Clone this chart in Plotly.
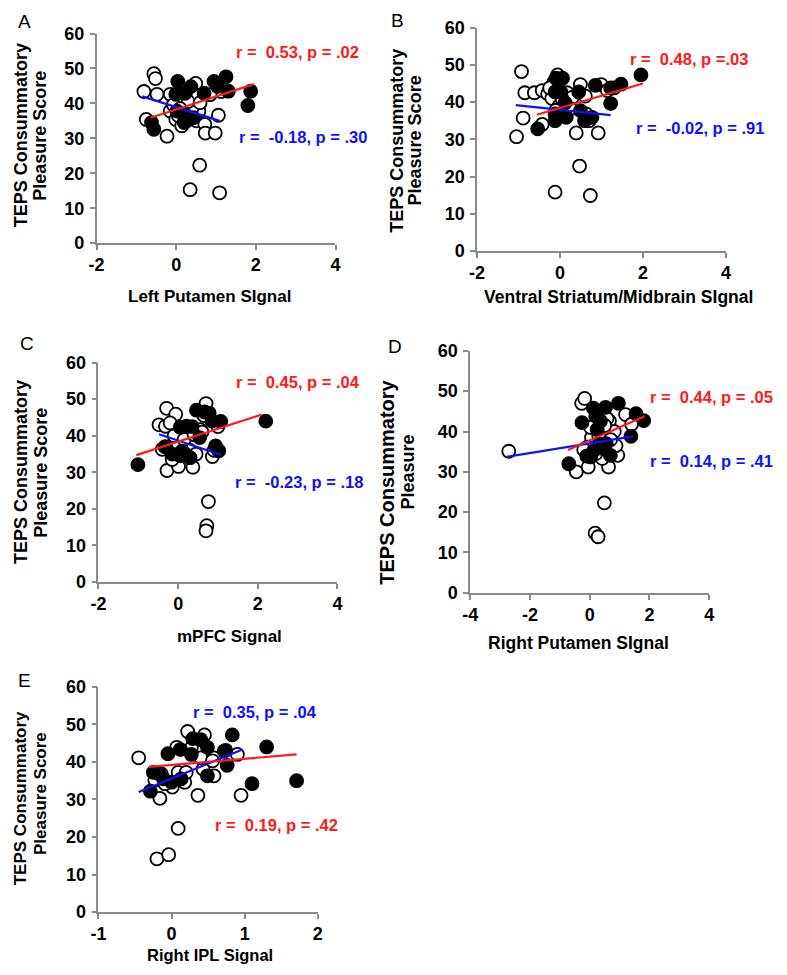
import plotly.graph_objects as go

W, H = 787, 975

# ---------------- data ----------------
# Panel A: Left Putamen
A_open_x = [-0.56, -0.52, -0.81, -0.48, -0.15, 0.49, 0.40, 1.13, -0.75, -0.23, -0.15, -0.01, 0.14, 0.51, 0.72,
            0.73, 0.98, 1.06, 0.57, 0.40, 0.59, 0.35, 1.09, -0.07, 0.55, 0.30, 0.10, 0.85, 0.60, 0.05]
A_open_y = [48.5, 47.1, 43.4, 42.6, 42.6, 45.7, 41.0, 43.4, 35.4, 30.6, 37.8, 35.4, 33.6, 35.0, 34.0,
            31.5, 31.5, 36.6, 37.8, 38.7, 22.3, 15.3, 14.4, 39.6, 42.3, 40.5, 38.5, 42.5, 40.2, 36.5]
A_fill_x = [0.04, -0.01, 0.22, 0.37, 0.70, 0.95, 1.25, 1.04, 1.31, 1.87, 1.80, -0.62, -0.56, 0.02, 0.22, 0.26, 0.43, 0.20]
A_fill_y = [46.3, 42.6, 42.9, 44.8, 42.9, 46.3, 47.6, 44.8, 43.5, 43.5, 39.4, 34.5, 32.6, 37.8, 36.8, 35.0, 35.9, 34.5]
A_red_x, A_red_y = [-0.64, 1.95], [35.9, 45.5]
A_blue_x, A_blue_y = [-0.85, 1.09], [42.0, 35.0]

# Panel B: Ventral Striatum/Midbrain
B_open_x = [-0.93, -0.85, -0.62, -0.43, -0.30, -0.06, -0.20, 0.17, 0.49, 0.61, 0.99, 1.14, -0.89, -1.05, -0.43,
            -0.02, 0.63, 0.39, 0.92, 0.47, -0.12, 0.73, -0.15, 0.30, 0.05, 0.70, 1.30, -0.25, 0.25, -0.10]
B_open_y = [48.2, 42.5, 42.5, 43.1, 42.2, 47.3, 41.0, 42.5, 44.7, 41.6, 44.7, 43.1, 35.7, 30.7, 34.0,
            39.0, 36.8, 31.7, 31.7, 22.8, 15.8, 14.9, 45.3, 41.3, 40.8, 35.0, 43.8, 43.8, 38.2, 37.8]
B_fill_x = [-0.10, 0.06, -0.12, 0.02, 0.45, 0.85, 1.22, 1.47, 1.22, -0.54, -0.12, -0.12, 0.15, 0.49, 0.59, 0.77, 1.95, 0.12]
B_fill_y = [46.4, 46.4, 42.7, 42.7, 42.7, 44.5, 43.8, 44.8, 39.6, 32.8, 35.0, 36.8, 35.9, 37.7, 35.0, 35.9, 47.3, 39.8]
B_red_x, B_red_y = [-0.56, 2.0], [36.6, 45.0]
B_blue_x, B_blue_y = [-1.07, 1.22], [39.2, 36.5]

# Panel C: mPFC
C_open_x = [-0.29, -0.06, -0.48, -0.32, -0.20, 0.70, -0.28, 0.01, 0.37, 0.86, 0.55, 0.76, 0.72, 0.70, -0.30,
            -0.10, 0.30, 0.45, 0.60, 1.00, 0.15, 0.65, -0.15, 0.40, 0.90, -0.40]
C_open_y = [47.5, 45.9, 43.0, 42.6, 43.5, 48.8, 30.5, 31.6, 31.4, 34.3, 41.7, 22.0, 15.4, 14.0, 36.5,
            40.0, 36.0, 35.0, 41.0, 42.5, 39.0, 45.5, 33.5, 40.3, 36.0, 36.3]
C_fill_x = [-1.01, 0.21, 0.05, 0.46, 0.66, 0.78, 1.07, -0.33, -0.15, 0.05, 0.20, 0.30, 0.94, 1.02, 0.54, 2.20, 0.85, 0.35, 0.10]
C_fill_y = [32.1, 42.6, 42.3, 47.0, 46.5, 46.2, 43.9, 37.0, 35.0, 34.5, 34.8, 34.0, 37.2, 35.9, 39.5, 44.0, 44.0, 42.5, 35.8]
C_red_x, C_red_y = [-1.05, 2.10], [34.7, 45.8]
C_blue_x, C_blue_y = [-0.48, 1.07], [40.4, 34.8]

# Panel D: Right Putamen
D_open_x = [-2.71, -0.27, -0.17, 0.12, 0.66, 1.20, -0.45, -0.05, 0.63, 0.94, 0.06, 0.88, 0.49, 0.18, 0.28,
            0.82, 1.40, 0.03, 0.58, -0.08, 0.42, 0.30, 0.50, -0.20, 0.20, 0.70]
D_open_y = [35.1, 47.0, 48.2, 40.6, 42.6, 44.2, 30.0, 31.2, 31.2, 34.1, 38.5, 36.5, 22.3, 14.8, 13.9,
            40.0, 41.8, 41.0, 43.2, 36.1, 33.3, 39.0, 41.5, 35.5, 34.5, 38.0]
D_fill_x = [-0.70, -0.10, -0.26, 0.12, 0.53, 0.36, 0.20, 0.96, 1.55, 1.81, 1.38, 0.14, 0.47, 0.69, 0.31, 0.03, 0.25, 0.55]
D_fill_y = [32.0, 33.9, 42.2, 45.8, 46.0, 42.6, 43.8, 47.0, 44.4, 42.7, 38.8, 35.3, 35.7, 34.1, 36.9, 33.7, 40.5, 37.0]
D_red_x, D_red_y = [-0.73, 1.84], [35.4, 43.8]
D_blue_x, D_blue_y = [-2.79, 1.44], [33.7, 38.8]

# Panel E: Right IPL
E_open_x = [-0.45, -0.23, -0.16, -0.20, -0.04, 0.09, 0.07, 0.22, 0.45, 0.36, 0.95, 0.58, 0.58, 0.43, 0.18,
            0.01, -0.09, 0.09, 0.20, 0.40, 0.27, 0.90, 0.72, -0.14, 0.56]
E_open_y = [41.1, 35.2, 30.3, 14.2, 15.3, 22.3, 43.9, 48.1, 47.2, 31.1, 31.1, 36.3, 41.1, 38.1, 34.6,
            33.3, 34.2, 37.2, 37.2, 41.1, 43.7, 42.0, 42.9, 36.8, 40.3]
E_fill_x = [-0.29, -0.25, -0.17, -0.05, 0.12, 0.00, -0.11, 0.13, 0.27, 0.29, 0.40, 0.49, 0.49, 0.74, 0.76, 0.83, 1.10, 1.30, 1.71]
E_fill_y = [32.2, 37.2, 36.8, 42.2, 43.3, 34.6, 35.5, 35.5, 42.0, 46.2, 45.9, 43.9, 36.3, 43.1, 39.1, 47.2, 34.2, 44.0, 35.0]
E_red_x, E_red_y = [-0.31, 1.71], [38.7, 42.0]
E_blue_x, E_blue_y = [-0.45, 0.97], [32.0, 43.3]

# tick values / labels (hyphen minus as in the original)
x_tickvals = {"A": [-2, 0, 2, 4], "B": [-2, 0, 2, 4], "C": [-2, 0, 2, 4], "D": [-4, -2, 0, 2, 4], "E": [-1, 0, 1, 2]}
x_ticktext = {"A": ["-2", "0", "2", "4"], "B": ["-2", "0", "2", "4"], "C": ["-2", "0", "2", "4"],
              "D": ["-4", "-2", "0", "2", "4"], "E": ["-1", "0", "1", "2"]}
x_ranges = {"A": [-2, 4], "B": [-2, 4], "C": [-2, 4], "D": [-4, 4], "E": [-1, 2]}
y_tickvals = [0, 10, 20, 30, 40, 50, 60]
y_range = [0, 60]

x_titles = {"A": "Left Putamen SIgnal", "B": "Ventral Striatum/Midbrain SIgnal", "C": "mPFC Signal",
            "D": "Right Putamen SIgnal", "E": "Right IPL Signal"}
red_texts = {"A": "r = \u00a00.53, p = .02", "B": "r = \u00a00.48, p =.03", "C": "r = \u00a00.45, p = .04",
             "D": "r = \u00a00.44, p = .05", "E": "r = \u00a00.19, p = .42"}
blue_texts = {"A": "r = \u00a0-0.18, p = .30", "B": "r = \u00a0-0.02, p = .91", "C": "r = \u00a0-0.23, p = .18",
              "D": "r = \u00a00.14, p = .41", "E": "r = \u00a00.35, p = .04"}

panels = {
    "A": (A_open_x, A_open_y, A_fill_x, A_fill_y, A_red_x, A_red_y, A_blue_x, A_blue_y),
    "B": (B_open_x, B_open_y, B_fill_x, B_fill_y, B_red_x, B_red_y, B_blue_x, B_blue_y),
    "C": (C_open_x, C_open_y, C_fill_x, C_fill_y, C_red_x, C_red_y, C_blue_x, C_blue_y),
    "D": (D_open_x, D_open_y, D_fill_x, D_fill_y, D_red_x, D_red_y, D_blue_x, D_blue_y),
    "E": (E_open_x, E_open_y, E_fill_x, E_fill_y, E_red_x, E_red_y, E_blue_x, E_blue_y),
}

# ---------------- layout (pixel boxes) ----------------
boxes = {  # left, right, top, bottom in px
    "A": (90, 333, 24, 238),
    "B": (477, 730, 18, 246),
    "C": (92, 335, 360, 584),
    "D": (470, 713, 348, 595),
    "E": (92, 315, 691, 921),
}
FONT = "Liberation Sans, Arial, sans-serif"
AX = "#8a8a8a"


def fx(px):
    return px / W


def fy(py):
    return 1 - py / H


fig = go.Figure()
layout = dict(width=W, height=H, margin=dict(l=0, r=0, t=0, b=0), paper_bgcolor="white",
              plot_bgcolor="white", showlegend=False, font=dict(family=FONT, color="black"))
annotations = []

for i, key in enumerate(["A", "B", "C", "D", "E"], start=1):
    ox, oy, fxv, fyv, rx, ry, bx, by = panels[key]
    xa = "x" if i == 1 else f"x{i}"
    ya = "y" if i == 1 else f"y{i}"
    fig.add_trace(go.Scatter(x=ox, y=oy, mode="markers", xaxis=xa, yaxis=ya, cliponaxis=False,
                             marker=dict(size=13, color="white", line=dict(color="black", width=1.8))))
    fig.add_trace(go.Scatter(x=fxv, y=fyv, mode="markers", xaxis=xa, yaxis=ya, cliponaxis=False,
                             marker=dict(size=13, color="black", line=dict(color="black", width=1.8))))
    fig.add_trace(go.Scatter(x=bx, y=by, mode="lines", xaxis=xa, yaxis=ya,
                             line=dict(color="#1010ff", width=2.2)))
    fig.add_trace(go.Scatter(x=rx, y=ry, mode="lines", xaxis=xa, yaxis=ya,
                             line=dict(color="#ff1a1a", width=2.2)))
    l, r, t, b = boxes[key]
    axcommon = dict(showline=True, linecolor=AX, linewidth=1.5, ticks="outside", ticklen=5,
                    tickcolor=AX, tickwidth=1.5, showgrid=False, zeroline=False,
                    tickfont=dict(family=FONT, size=18, color="black", weight="bold"))
    layout["xaxis" if i == 1 else f"xaxis{i}"] = dict(
        domain=[fx(l), fx(r)], range=x_ranges[key], tickmode="array",
        tickvals=x_tickvals[key], ticktext=x_ticktext[key],
        anchor=ya, **axcommon)
    layout["yaxis" if i == 1 else f"yaxis{i}"] = dict(
        domain=[fy(b), fy(t)], range=y_range, tickmode="array", tickvals=y_tickvals,
        ticklabelstandoff=2, anchor=xa, **axcommon)

# ---------------- text ----------------
def ann(text, x, y, size=17, color="black", bold=True, angle=0, xanchor="center", yanchor="middle"):
    annotations.append(dict(text=text, x=fx(x), y=fy(y), xref="paper", yref="paper", showarrow=False,
                            textangle=angle, xanchor=xanchor, yanchor=yanchor,
                            font=dict(family=FONT, size=size, color=color,
                                      weight="bold" if bold else "normal")))

# panel letters
for k, (x, y) in {"A": (17, 12), "B": (396, 11), "C": (19, 340), "D": (394, 344), "E": (17, 685)}.items():
    ann(k, x, y, size=19, bold=False)

# x titles
xt_pos = {"A": (205, 293, 17), "B": (621, 293, 17.5), "C": (225, 640, 17), "D": (580, 646, 17.5), "E": (205, 965, 16.5)}
for k, (x, y, s) in xt_pos.items():
    ann(x_titles[k], x, y, size=s)

# y titles (two lines)
ytitle_pos = {
    "A": [("TEPS Consummatory", 14, 128, 18), ("Pleasure Score", 33, 128, 18)],
    "B": [("TEPS Consummatory", 396, 133, 18), ("Pleasure Score", 414, 133, 18)],
    "C": [("TEPS Consummatory", 14, 472, 18), ("Pleasure Score", 34, 472, 18)],
    "D": [("TEPS Consummatory", 385, 482, 20), ("Pleasure", 407, 472, 18)],
    "E": [("TEPS Consummatory", 13, 805, 17), ("Pleasure Score", 33, 800, 17)],
}
for k, lines in ytitle_pos.items():
    for txt, x, y, s in lines:
        ann(txt, x, y, size=s, angle=-90)

# correlation labels (centre positions)
red_pos = {"A": (294, 43), "B": (692, 50), "C": (295, 380), "D": (715, 395), "E": (273, 832)}
blue_pos = {"A": (300, 130), "B": (704, 120), "C": (296, 482), "D": (715, 460), "E": (251, 717)}
for k in red_pos:
    ann(red_texts[k], *red_pos[k], size=16.5, color="#ff1a1a")
    ann(blue_texts[k], *blue_pos[k], size=16.5, color="#1010ff")

layout["annotations"] = annotations
fig.update_layout(**layout)
fig.write_html("out.html", config={"displayModeBar": False},
               post_script="document.body.style.margin='0';document.body.style.padding='0';"
                           "document.body.style.overflow='hidden';")
